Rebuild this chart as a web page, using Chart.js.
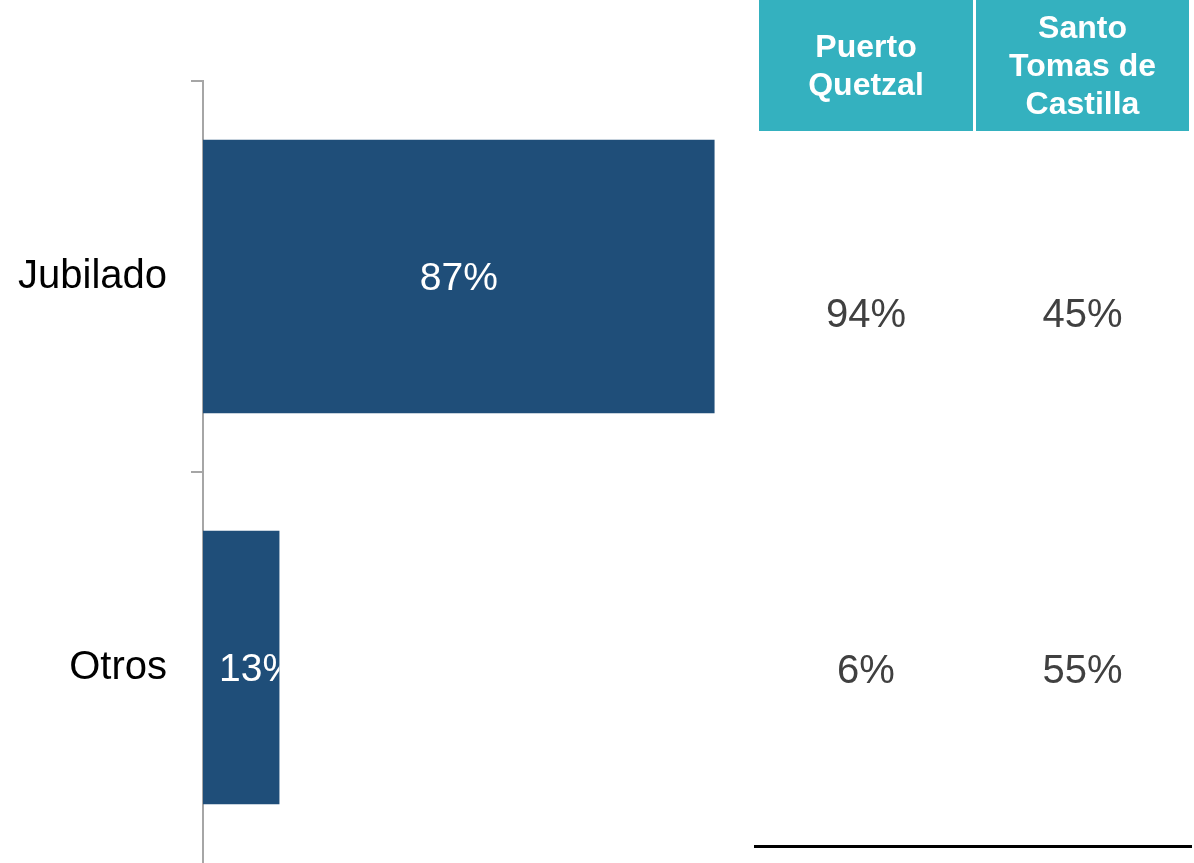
<!DOCTYPE html>
<html>
<head>
<meta charset="utf-8">
<script src="https://cdn.jsdelivr.net/npm/chart.js@4.4.1/dist/chart.umd.min.js"></script>
<style>
  html, body { margin: 0; padding: 0; background: #ffffff; }
  #wrap { position: relative; width: 1194px; height: 863px; }
  canvas { display: block; }
</style>
</head>
<body>
<div id="wrap"><canvas id="c" width="1194" height="863"></canvas></div>
<script>
// ---- data ----
const categories = ['Jubilado', 'Otros'];
const totalValues = [87, 13];
const tableHeaders = [['Puerto', 'Quetzal'], ['Santo', 'Tomas de', 'Castilla']];
const puertoQuetzalValues = [94, 6];
const santoTomasValues = [45, 55];

const FONT = '"Liberation Sans", Arial, Helvetica, sans-serif';
const BAR_COLOR = '#1f4e79';
const TEAL = '#34b1bf';

// data labels inside bars (clipped to the bar)
const barLabels = {
  id: 'barLabels',
  afterDatasetsDraw(chart) {
    const ctx = chart.ctx;
    const meta = chart.getDatasetMeta(0);
    ctx.save();
    ctx.font = '39px ' + FONT;
    ctx.fillStyle = '#ffffff';
    ctx.textBaseline = 'middle';
    meta.data.forEach((bar, i) => {
      const txt = totalValues[i] + '%';
      const w = ctx.measureText(txt).width;
      const left = Math.min(bar.base, bar.x);
      const right = Math.max(bar.base, bar.x);
      const top = bar.y - bar.height / 2;
      ctx.save();
      ctx.beginPath();
      ctx.rect(left, top, right - left, bar.height);
      ctx.clip();
      if (w + 28 <= right - left) {
        ctx.textAlign = 'center';
        ctx.fillText(txt, (left + right) / 2, bar.y + 3);
      } else {
        ctx.textAlign = 'left';
        ctx.fillText(txt, left + 16, bar.y + 3);
      }
      ctx.restore();
    });
    ctx.restore();
  }
};

// side table
const sideTable = {
  id: 'sideTable',
  afterDraw(chart) {
    const ctx = chart.ctx;
    const cols = [{ x0: 759, x1: 973 }, { x0: 976, x1: 1189 }];
    const colValues = [puertoQuetzalValues, santoTomasValues];
    const rowY = [316, 672];
    ctx.save();
    cols.forEach((c, ci) => {
      ctx.fillStyle = TEAL;
      ctx.fillRect(c.x0, 0, c.x1 - c.x0, 131);
      ctx.fillStyle = '#ffffff';
      ctx.font = 'bold 32px ' + FONT;
      ctx.textAlign = 'center';
      ctx.textBaseline = 'alphabetic';
      const lines = tableHeaders[ci];
      const cx = (c.x0 + c.x1) / 2;
      lines.forEach((ln, li) => {
        const y = 65 + (li - (lines.length - 1) / 2) * 38 + 11;
        ctx.fillText(ln, cx, y);
      });
      ctx.fillStyle = '#404040';
      ctx.font = '40px ' + FONT;
      ctx.textBaseline = 'middle';
      colValues[ci].forEach((v, ri) => {
        ctx.fillText(v + '%', cx, rowY[ri]);
      });
    });
    ctx.fillStyle = '#000000';
    ctx.fillRect(754, 845, 438, 3);
    ctx.restore();
  }
};

new Chart(document.getElementById('c'), {
  type: 'bar',
  data: {
    labels: categories,
    datasets: [{
      data: totalValues,
      backgroundColor: BAR_COLOR,
      borderWidth: 0,
      categoryPercentage: 0.70,
      barPercentage: 1.0
    }]
  },
  options: {
    indexAxis: 'y',
    responsive: false,
    animation: false,
    devicePixelRatio: 1,
    layout: { padding: { top: 81, bottom: 0, left: 0, right: 403 } },
    plugins: { legend: { display: false }, tooltip: { enabled: false } },
    scales: {
      x: { display: false, min: 0, max: 100 },
      y: {
        afterFit(scale) { scale.width = 203; scale.paddingTop = 0; scale.paddingBottom = 0; },
        border: { display: true, color: '#a6a6a6', width: 2 },
        grid: {
          offset: true,
          drawOnChartArea: false,
          drawTicks: true,
          tickLength: 12,
          color: (c) => (c.type === 'tick' ? '#a6a6a6' : 'rgba(0,0,0,0)'),
          lineWidth: 2
        },
        ticks: {
          color: '#000000',
          font: { family: FONT, size: 40 },
          padding: 24
        }
      }
    }
  },
  plugins: [barLabels, sideTable]
});
</script>
</body>
</html>
